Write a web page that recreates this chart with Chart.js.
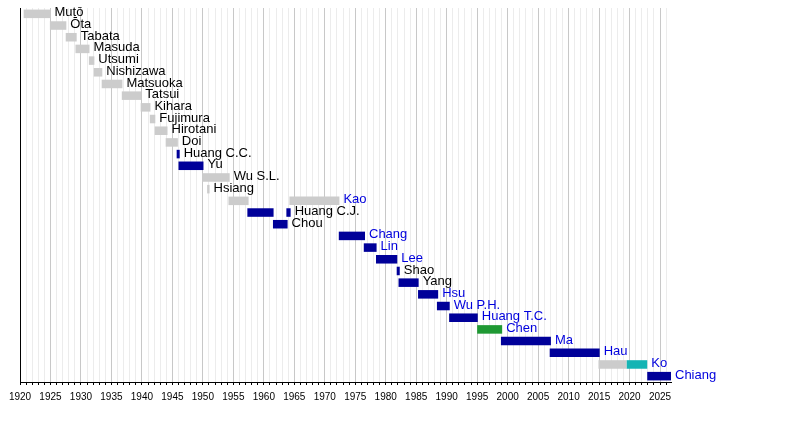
<!DOCTYPE html>
<html>
<head>
<meta charset="utf-8">
<script src="https://cdn.jsdelivr.net/npm/chart.js@4/dist/chart.umd.min.js"></script>
<style>
  html, body { margin:0; padding:0; background:#fff; }
  #wrap { width:800px; height:432px; }
</style>
</head>
<body>
<div id="wrap"><canvas id="mayorChart"></canvas></div>
<script>
// Mayors, top to bottom
const names = ['Mutō','Ōta','Tabata','Masuda','Utsumi','Nishizawa','Matsuoka','Tatsui','Kihara','Fujimura',
  'Hirotani','Doi','Huang C.C.','Yu','Wu S.L.','Hsiang','Kao','Huang C.J.','Chou','Chang','Lin','Lee','Shao',
  'Yang','Hsu','Wu P.H.','Huang T.C.','Chen','Ma','Hau','Ko','Chiang'];

// first (or only) term: [start, end] in years
const firstTerm = [
  [1920.6,1925.0],[1924.9,1927.6],[1927.5,1929.3],[1929.1,1931.4],[1931.3,1932.2],[1932.1,1933.5],
  [1933.4,1936.8],[1936.7,1939.9],[1939.8,1941.4],[1941.3,1942.2],[1942.1,1944.2],[1943.9,1945.9],
  [1945.7,1946.2],[1946.0,1950.1],[1949.9,1954.4],[1950.7,1951.1],[1954.2,1957.5],[1957.3,1961.6],
  [1961.5,1963.9],[1972.3,1976.6],[1976.4,1978.5],[1978.4,1981.9],[1981.8,1982.3],[1982.1,1985.4],
  [1985.3,1988.6],[1988.4,1990.5],[1990.4,1995.1],[1995.0,1999.1],[1998.9,2007.1],[2006.9,2015.1],
  [2014.9,2019.5],[2022.9,2026.8]
];
const firstParty = ['none','none','none','none','none','none','none','none','none','none','none','none',
  'kmt','kmt','none','none','none','kmt','kmt','kmt','kmt','kmt','kmt','kmt','kmt','kmt','kmt',
  'dpp','kmt','kmt','none','kmt'];

// second segment (another term, or a party change)
const secondTerm = names.map(() => null);
const secondParty = names.map(() => null);
secondTerm[16] = [1964.2,1972.4]; secondParty[16] = 'none'; // Kao
secondTerm[17] = [1963.7,1964.4]; secondParty[17] = 'kmt';  // Huang C.J.
secondTerm[30] = [2019.5,2022.9]; secondParty[30] = 'tpp';  // Ko

// names shown in blue
const elected = ['Kao','Chang','Lin','Lee','Hsu','Wu P.H.','Huang T.C.','Chen','Ma','Hau','Ko','Chiang'];

// axis
const yearMin = 1920, yearMax = 2026.8;
const tickLabels = [1920,1925,1930,1935,1940,1945,1950,1955,1960,1965,1970,1975,1980,1985,1990,1995,2000,2005,2010,2015,2020,2025];

const partyColors = { none:'#cccccc', kmt:'#000099', dpp:'#1f9933', tpp:'#14b4b4' };

const nameLabels = {
  id: 'nameLabels',
  afterDatasetsDraw(chart) {
    const { ctx, scales:{ x, y } } = chart;
    ctx.save();
    ctx.font = '13px "Liberation Sans", Arial, sans-serif';
    ctx.textBaseline = 'middle';
    ctx.textAlign = 'left';
    names.forEach((n, i) => {
      const end = secondTerm[i] ? Math.max(secondTerm[i][1], firstTerm[i][1]) : firstTerm[i][1];
      ctx.fillStyle = elected.includes(n) ? '#0000dd' : '#000000';
      ctx.fillText(n, x.getPixelForValue(end) + 4, y.getPixelForValue(i) - 1);
    });
    ctx.restore();
  }
};

new Chart(document.getElementById('mayorChart').getContext('2d'), {
  type: 'bar',
  data: {
    labels: names,
    datasets: [
      { data: firstTerm, backgroundColor: firstParty.map(p => partyColors[p]), grouped:false },
      { data: secondTerm, backgroundColor: secondParty.map(p => p ? partyColors[p] : 'transparent'), grouped:false }
    ]
  },
  options: {
    indexAxis: 'y',
    responsive: true,
    maintainAspectRatio: false,
    animation: false,
    layout: { padding: { left:12, right:129, top:8, bottom:23 } },
    datasets: { bar: { barPercentage:0.73, categoryPercentage:1, borderWidth:0, borderSkipped:false } },
    scales: {
      x: {
        type: 'linear', min: yearMin, max: yearMax, position: 'bottom',
        afterBuildTicks: axis => {
          const t = [];
          for (let v = yearMin; v <= Math.floor(yearMax); v++) t.push({ value: v });
          axis.ticks = t;
        },
        ticks: {
          autoSkip:false, maxRotation:0, padding:6, color:'#000',
          font:{ family:'"Liberation Sans", Arial, sans-serif', size:10 },
          callback: v => tickLabels.includes(v) ? String(v) : ''
        },
        grid: {
          color: c => (c.tick && tickLabels.includes(c.tick.value)) ? '#c8c8c8' : '#ececec',
          tickColor: '#000', tickLength: 3
        },
        border: { color:'#000' }
      },
      y: {
        type: 'category',
        ticks: { display:false },
        grid: { display:false },
        border: { color:'#000' }
      }
    },
    plugins: { legend:{ display:false }, tooltip:{ enabled:false } }
  },
  plugins: [nameLabels]
});
</script>
</body>
</html>
